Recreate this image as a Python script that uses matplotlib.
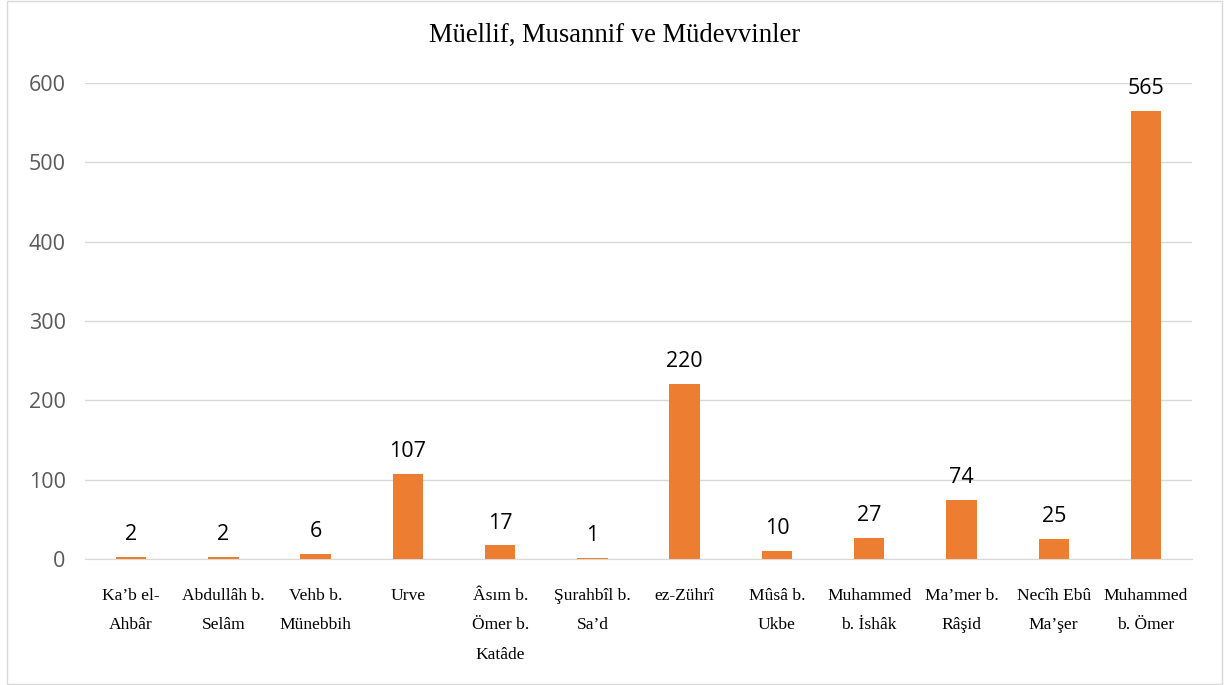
import matplotlib
matplotlib.use("Agg")
import matplotlib.pyplot as plt
from matplotlib.patches import Rectangle

names = ["Ka\u2019b el-\nAhbâr", "Abdullâh b.\nSelâm", "Vehb b.\nMünebbih", "Urve",
         "Âsım b.\nÖmer b.\nKatâde", "Şurahbîl b.\nSa\u2019d", "ez-Zührî", "Mûsâ b.\nUkbe",
         "Muhammed\nb. İshâk", "Ma\u2019mer b.\nRâşid", "Necîh Ebû\nMa\u2019şer", "Muhammed\nb. Ömer"]
counts = [2, 2, 6, 107, 17, 1, 220, 10, 27, 74, 25, 565]
yticks = [0, 100, 200, 300, 400, 500, 600]

fig = plt.figure(figsize=(12.29, 6.85), dpi=100)
ax = fig.add_axes([0.0692, 0.184, 0.9008, 0.695])

x = list(range(len(counts)))
ax.bar(x, counts, width=0.33, color="#ED7D31", zorder=3)
for xi, v in zip(x, counts):
    ax.text(xi, v + 15, str(v), ha="center", va="bottom", fontsize=15.5,
            family="Open Sans", color="black")

ax.set_xlim(-0.5, len(counts) - 0.5)
ax.set_ylim(0, 600)
ax.set_yticks(yticks)
ax.set_yticklabels([str(t) for t in yticks], fontsize=15.5, family="Open Sans", color="#595959")
ax.set_xticks(x)
ax.set_xticklabels(names, fontsize=12.6, family="Liberation Serif", linespacing=2.1, va="top")
ax.tick_params(axis="y", length=0, pad=14)
ax.tick_params(axis="x", length=0, pad=21)
ax.grid(axis="y", color="#D9D9D9", linewidth=1, zorder=0)
for s in ["top", "right", "left"]:
    ax.spines[s].set_visible(False)
ax.spines["bottom"].set_color("#D9D9D9")

fig.text(0.5, 1 - 35 / 685, "Müellif, Musannif ve Müdevvinler", fontsize=19.2,
         family="Liberation Serif", ha="center", va="center")

fig.patches.append(Rectangle((0.006, 0.002), 0.988, 0.996, transform=fig.transFigure,
                             fill=False, edgecolor="#D9D9D9", linewidth=1))

fig.savefig("out.png", dpi=100)
